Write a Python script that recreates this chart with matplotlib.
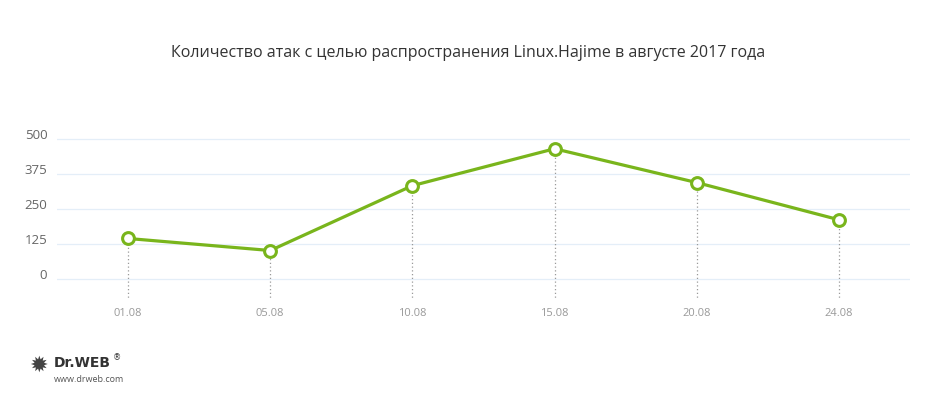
#!/usr/bin/env python3
"""Attacks spreading Linux.Hajime in August 2017 (Dr.Web chart)."""

import matplotlib
matplotlib.use("Agg")
import matplotlib.pyplot as plt

dates = ["01.08", "05.08", "10.08", "15.08", "20.08", "24.08"]
attacks = [144, 101, 333, 465, 344, 211]
y_ticks = [0, 125, 250, 375, 500]

GREEN = "#79b51c"

plt.rcParams["font.family"] = ["Open Sans", "DejaVu Sans"]

fig = plt.figure(figsize=(9.36, 4.0), dpi=100)
ax = fig.add_axes([57 / 936, 1 - 300 / 400, (910 - 57) / 936, (300 - 137) / 400])

x = list(range(len(dates)))
for xi, yi in zip(x, attacks):
    ax.plot([xi, xi], [-80, yi], color="#9a9a9a", lw=0.9, ls=(0, (1, 2)), zorder=1)
ax.plot(x, attacks, color=GREEN, lw=2.3, zorder=3,
        marker="o", markersize=8.5, markerfacecolor="white",
        markeredgecolor=GREEN, markeredgewidth=2.2)

ax.set_xlim(-0.5, len(dates) - 0.5)
ax.set_ylim(-76, 507)
ax.set_yticks(y_ticks)
ax.set_yticklabels([str(v) for v in y_ticks])
ax.set_xticks(x)
ax.set_xticklabels(dates)
ax.grid(axis="y", color="#e4eef8", lw=0.9)
ax.set_axisbelow(True)
for s in ax.spines.values():
    s.set_visible(False)
ax.tick_params(axis="both", length=0)
ax.tick_params(axis="y", labelsize=9.5, labelcolor="#666666", pad=7)
ax.tick_params(axis="x", labelsize=8, labelcolor="#999999", pad=6)
for lab in ax.get_yticklabels():
    lab.set_verticalalignment("baseline")

fig.text(0.5, 1 - 53 / 400,
         "Количество атак с целью распространения Linux.Hajime в августе 2017 года",
         ha="center", va="center", fontsize=11.5, color="#333333")

# Dr.Web branding
fig.text(54 / 936, 1 - 363 / 400, "Dr.WEB", ha="left", va="center",
         fontsize=10, fontweight="bold", color="#333333", family="DejaVu Sans")
fig.text(113 / 936, 1 - 358 / 400, "®", ha="left", va="center",
         fontsize=6, color="#333333", family="DejaVu Sans")
fig.text(54 / 936, 1 - 379 / 400, "www.drweb.com", ha="left", va="center",
         fontsize=6.5, color="#555555")
fig.text(38 / 936, 1 - 366 / 400, "✹", ha="center", va="center",
         fontsize=16, color="#444444", family="DejaVu Sans")

fig.savefig("out.png", dpi=100, facecolor="white")
